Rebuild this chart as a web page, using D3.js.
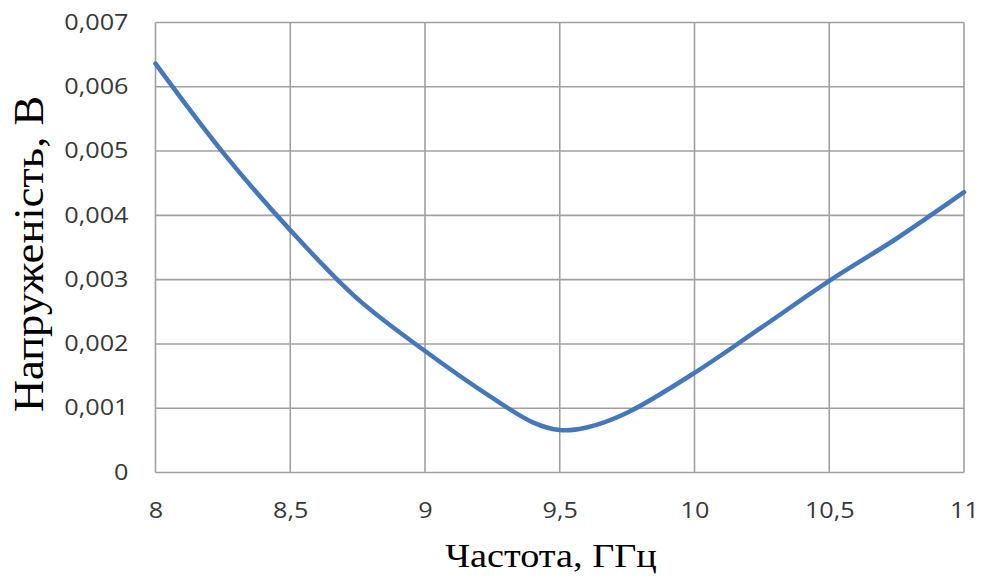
<!DOCTYPE html>
<html>
<head>
<meta charset="utf-8">
<script src="https://cdn.jsdelivr.net/npm/d3@7"></script>
<style>
  body { margin: 0; background: #fff; }
  .tick text { font-family: "Open Sans", sans-serif; fill: #383838; }
  .title { font-family: "Liberation Serif", "Times New Roman", serif; fill: #000; }
</style>
</head>
<body>
<script>
// frequency, GHz
const freq = [8, 8.25, 8.5, 8.75, 9, 9.25, 9.4, 9.5, 9.6, 9.75, 10, 10.25, 10.5, 10.75, 11];
// voltage, V
const volt = [0.00636, 0.00498, 0.00377, 0.0027, 0.00189, 0.00116, 0.00078, 0.00066, 0.0007, 0.00093, 0.00155, 0.00226, 0.00298, 0.00364, 0.00436];

const xTicks = [8, 8.5, 9, 9.5, 10, 10.5, 11];
const yTicks = [0, 0.001, 0.002, 0.003, 0.004, 0.005, 0.006, 0.007];

const width = 986,
  height = 578;
const margin = { top: 22.5, right: 22, bottom: 105.5, left: 155.5 };

const fmtX = d => String(d).replace(".", ",");
const fmtY = d => (d === 0 ? "0" : d3.format(".3f")(d).replace(".", ","));

const x = d3.scaleLinear([8, 11], [margin.left, width - margin.right]);
const y = d3.scaleLinear([0, 0.007], [height - margin.bottom, margin.top]);

const svg = d3
  .select("body")
  .append("svg")
    .attr("width", width)
    .attr("height", height);

// grid
svg
  .append("g")
  .selectAll("line")
  .data(xTicks)
  .join("line")
    .attr("x1", d => x(d))
    .attr("x2", d => x(d))
    .attr("y1", y(0))
    .attr("y2", y(0.007))
    .attr("stroke", "#a0a0a0")
    .attr("stroke-width", 1.6);

svg
  .append("g")
  .selectAll("line")
  .data(yTicks)
  .join("line")
    .attr("x1", x(8))
    .attr("x2", x(11))
    .attr("y1", d => y(d))
    .attr("y2", d => y(d))
    .attr("stroke", "#a0a0a0")
    .attr("stroke-width", 1.6);

// axes (labels only)
const xAxis = svg
  .append("g")
    .attr("transform", "translate(0," + y(0) + ")")
    .call(d3.axisBottom(x).tickValues(xTicks).tickFormat(fmtX).tickSize(0).tickPadding(0));

xAxis.select(".domain").remove();
xAxis
  .selectAll(".tick text")
    .attr("font-size", 21)
    .attr("dy", null)
    .attr("y", 0)
    .attr("transform", "translate(0,45) scale(1.2,1)");

const yAxis = svg
  .append("g")
    .attr("transform", "translate(" + x(8) + ",0)")
    .call(d3.axisLeft(y).tickValues(yTicks).tickFormat(fmtY).tickSize(0).tickPadding(0));

yAxis.select(".domain").remove();
yAxis
  .selectAll(".tick text")
    .attr("font-size", 21)
    .attr("x", 0)
    .attr("transform", "translate(-27,0) scale(1.2,1)");

// curve
const line = d3
  .line()
  .x((d, i) => x(freq[i]))
  .y(d => y(d))
  .curve(d3.curveCatmullRom.alpha(0.5));

svg
  .append("path")
    .attr("d", line(volt))
    .attr("fill", "none")
    .attr("stroke", "#4577bd")
    .attr("stroke-width", 4.5)
    .attr("stroke-linecap", "round");

// titles
svg
  .append("text")
    .attr("class", "title")
    .attr("text-anchor", "middle")
    .attr("font-size", 33)
    .attr("transform", "translate(551,567) scale(1.16,1)")
    .text("Частота, ГГц");

svg
  .append("text")
    .attr("class", "title")
    .attr("text-anchor", "middle")
    .attr("font-size", 33)
    .attr("transform", "translate(43,254) rotate(-90) scale(1.35,1.25)")
    .text("Напруженість, В");
</script>
</body>
</html>
